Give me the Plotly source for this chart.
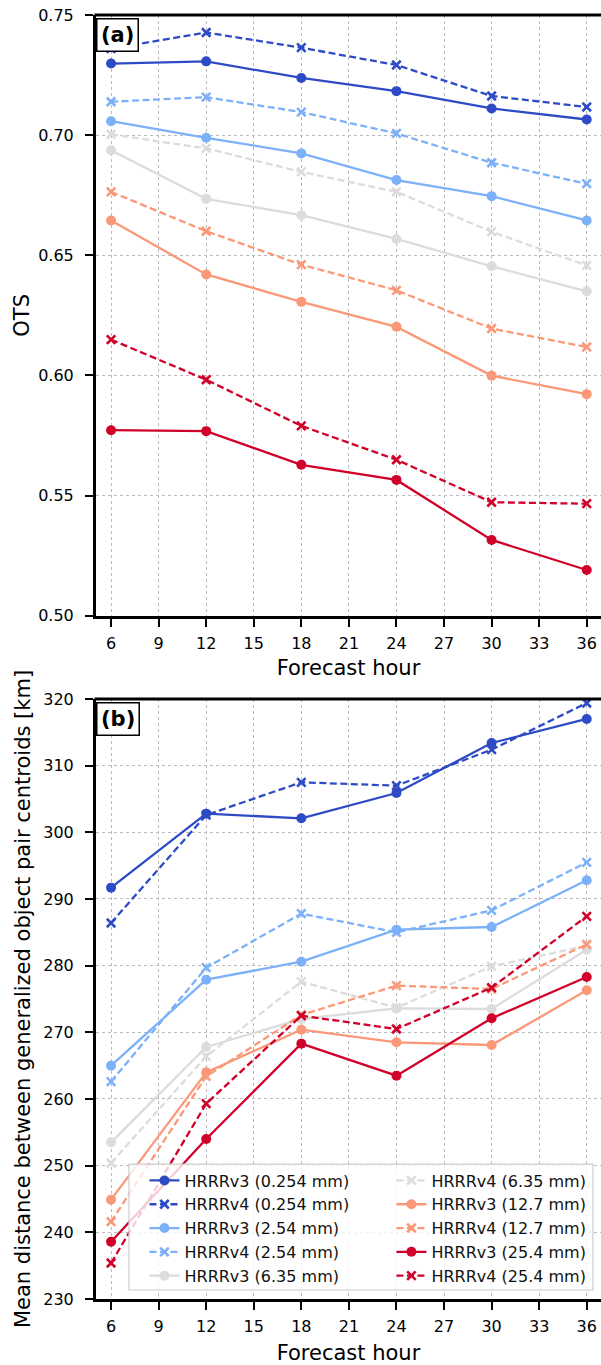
import plotly.graph_objects as go

hours = [6, 12, 18, 24, 30, 36]
x_ticks = [6, 9, 12, 15, 18, 21, 24, 27, 30, 33, 36]
thresholds = ["0.254 mm", "2.54 mm", "6.35 mm", "12.7 mm", "25.4 mm"]
colors = ["#2e4bc6", "#7cb1f9", "#dcdcdc", "#fb9877", "#d0002a"]

# Panel (a): OTS
ots_v3 = [
    [0.7298, 0.7307, 0.7238, 0.7183, 0.7111, 0.7065],
    [0.7058, 0.6989, 0.6924, 0.6813, 0.6746, 0.6645],
    [0.6937, 0.6735, 0.6667, 0.6568, 0.6454, 0.6350],
    [0.6645, 0.6420, 0.6306, 0.6202, 0.5999, 0.5922],
    [0.5772, 0.5768, 0.5628, 0.5565, 0.5315, 0.5190],
]
ots_v4 = [
    [0.7360, 0.7427, 0.7364, 0.7292, 0.7163, 0.7117],
    [0.7139, 0.7158, 0.7096, 0.7007, 0.6885, 0.6798],
    [0.7003, 0.6945, 0.6847, 0.6764, 0.6598, 0.6458],
    [0.6764, 0.6600, 0.6461, 0.6354, 0.6195, 0.6118],
    [0.6149, 0.5982, 0.5790, 0.5649, 0.5472, 0.5466],
]

# Panel (b): mean centroid distance [km]
dist_v3 = [
    [291.7, 302.8, 302.1, 305.9, 313.4, 317.0],
    [265.0, 277.9, 280.6, 285.4, 285.8, 292.8],
    [253.5, 267.8, 272.0, 273.6, 273.5, 282.4],
    [244.9, 264.0, 270.4, 268.5, 268.1, 276.3],
    [238.6, 254.0, 268.3, 263.5, 272.1, 278.3],
]
dist_v4 = [
    [286.4, 302.6, 307.5, 307.0, 312.4, 319.4],
    [262.6, 279.7, 287.8, 285.0, 288.3, 295.5],
    [250.4, 266.4, 277.6, 273.7, 279.9, 283.0],
    [241.6, 263.4, 272.6, 277.0, 276.5, 283.2],
    [235.4, 259.3, 272.5, 270.5, 276.7, 287.4],
]

FONT = "DejaVu Sans"
fig = go.Figure()

def add_pair(v3, v4, xa, ya, show):
    order = []
    for i in range(5):
        order.append(("HRRRv3", i, v3[i], "solid"))
        order.append(("HRRRv4", i, v4[i], "dash"))
    for k, (name, i, vals, dash) in enumerate(order):
        legend = "legend" if k < 5 else "legend2"
        if dash == "solid":
            marker = dict(symbol="circle", size=10, color=colors[i])
            line = dict(color=colors[i], width=2.3)
        else:
            marker = dict(symbol="x-thin", size=8.5, color=colors[i],
                          line=dict(color=colors[i], width=2.6))
            line = dict(color=colors[i], width=2.3, dash="7px,3.5px")
        fig.add_trace(go.Scatter(
            x=hours, y=vals, mode="lines+markers", name=f"{name} ({thresholds[i]})",
            line=line, marker=marker, xaxis=xa, yaxis=ya,
            showlegend=show, legend=legend, legendrank=k,
        ))

add_pair(ots_v3, ots_v4, "x", "y", False)
add_pair(dist_v3, dist_v4, "x2", "y2", True)

axis_common = dict(
    showline=True, linecolor="black", linewidth=3,
    ticks="outside", ticklen=8, tickwidth=2, tickcolor="black",
    showgrid=True, gridcolor="#bababa", gridwidth=1.4, griddash="dot",
    zeroline=False, tickfont=dict(family=FONT, size=16, color="black"),
)
xcommon = dict(axis_common, range=[5.05, 36.9], tickvals=x_ticks,
               ticklabelstandoff=3)

fig.update_layout(
    width=601, height=1365,
    margin=dict(l=96, r=0, t=15, b=66),
    plot_bgcolor="white", paper_bgcolor="white",
    font=dict(family=FONT, color="black"),
    xaxis=dict(xcommon, anchor="y", title=dict(text="Forecast hour", font=dict(size=21), standoff=9)),
    yaxis=dict(axis_common, domain=[0.5322, 1.0], range=[0.5, 0.75],
               tickvals=[0.50, 0.55, 0.60, 0.65, 0.70, 0.75], tickformat=".2f",
               ticklabelstandoff=8,
               title=dict(text="OTS", font=dict(size=21), standoff=3)),
    xaxis2=dict(xcommon, anchor="y2", title=dict(text="Forecast hour", font=dict(size=21), standoff=11)),
    yaxis2=dict(axis_common, domain=[0.0, 0.4673], range=[230, 320],
                tickvals=list(range(230, 321, 10)), ticklabelstandoff=8,
                title=dict(text="Mean distance between generalized object pair centroids [km]",
                           font=dict(size=21), standoff=7)),
    legend=dict(x=0.096, y=0.1055, xanchor="left", yanchor="top",
                bgcolor="rgba(0,0,0,0)", borderwidth=0,
                font=dict(family=FONT, size=16, color="#111")),
    legend2=dict(x=0.585, y=0.1055, xanchor="left", yanchor="top",
                 bgcolor="rgba(0,0,0,0)", borderwidth=0,
                 font=dict(family=FONT, size=16, color="#111")),
    showlegend=True,
)

# top spines and legend frame
for yref in ["y domain", "y2 domain"]:
    fig.add_shape(type="line", xref="paper", yref=yref, x0=-0.003, x1=1.0, y0=1, y1=1,
                  line=dict(color="black", width=3), layer="above")
fig.add_shape(type="rect", xref="paper", yref="paper", x0=0.0653, x1=0.984, y0=0.0070, y1=0.1051,
              fillcolor="rgba(255,255,255,0.8)", line=dict(color="#cccccc", width=1.2), layer="above")

for lab, yref in [("(a)", "y domain"), ("(b)", "y2 domain")]:
    fig.add_annotation(text=f"<b>{lab}</b>", xref="x domain" if lab == "(a)" else "x2 domain",
                       yref=yref, x=0.0, y=0.995, xanchor="left", yanchor="top", showarrow=False,
                       font=dict(family=FONT, size=21, color="black"),
                       bgcolor="white", bordercolor="black", borderwidth=1.5, borderpad=3.5)

fig.write_html("out.html")
